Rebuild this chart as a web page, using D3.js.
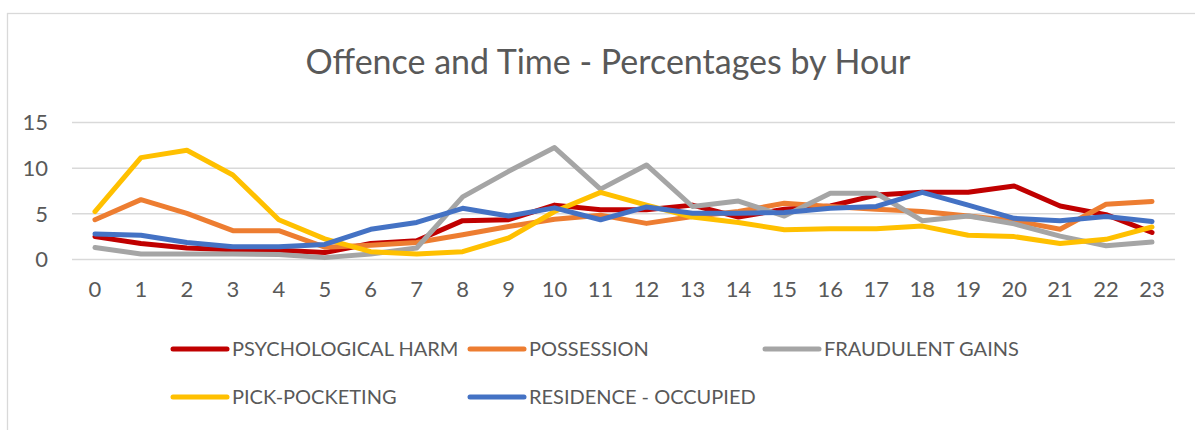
<!DOCTYPE html>
<html>
<head>
<meta charset="utf-8">
<script src="https://cdn.jsdelivr.net/npm/d3@7"></script>
<style>
  html, body { margin: 0; padding: 0; background: #fff; }
  svg { display: block; }
  text { font-family: Lato, "Open Sans", sans-serif; fill: #595959; }
</style>
</head>
<body>
<svg id="chart" width="1195" height="430"></svg>
<script>
const hours = ["0","1","2","3","4","5","6","7","8","9","10","11","12","13","14","15","16","17","18","19","20","21","22","23"];
const seriesNames = ["PSYCHOLOGICAL HARM", "POSSESSION", "FRAUDULENT GAINS", "PICK-POCKETING", "RESIDENCE - OCCUPIED"];
const psychologicalHarm = [2.45, 1.7, 1.2, 1.0, 0.95, 0.7, 1.7, 2.0, 4.2, 4.3, 5.9, 5.4, 5.4, 5.9, 4.6, 5.45, 5.8, 7.0, 7.3, 7.3, 8.0, 5.8, 4.85, 2.9];
const possession = [4.3, 6.5, 5.0, 3.1, 3.1, 1.3, 1.5, 1.8, 2.65, 3.55, 4.35, 4.8, 3.9, 4.65, 5.2, 6.1, 5.75, 5.45, 5.2, 4.7, 4.2, 3.25, 6.0, 6.3];
const fraudulentGains = [1.25, 0.55, 0.55, 0.55, 0.5, 0.15, 0.55, 1.2, 6.8, 9.6, 12.2, 7.65, 10.3, 5.75, 6.35, 4.7, 7.2, 7.2, 4.2, 4.7, 3.85, 2.5, 1.45, 1.85];
const pickPocketing = [5.2, 11.1, 11.9, 9.2, 4.3, 2.2, 0.8, 0.55, 0.8, 2.3, 5.2, 7.3, 5.9, 4.6, 4.0, 3.2, 3.3, 3.3, 3.6, 2.6, 2.45, 1.7, 2.15, 3.5];
const residenceOccupied = [2.75, 2.6, 1.8, 1.35, 1.35, 1.6, 3.25, 4.0, 5.55, 4.7, 5.6, 4.3, 5.7, 5.0, 5.0, 5.1, 5.55, 5.75, 7.3, 5.9, 4.45, 4.2, 4.65, 4.1];
const yTicks = [0, 5, 10, 15];
const colors = ["#C00000", "#ED7D31", "#A5A5A5", "#FFC000", "#4472C4"];
const title = "Offence and Time - Percentages by Hour";

const seriesValues = [psychologicalHarm, possession, fraudulentGains, pickPocketing, residenceOccupied];
const series = seriesNames.map((name, i) => ({ name, color: colors[i], values: seriesValues[i] }));

const svg = d3.select("#chart");

// chart frame
svg.append("rect")
  .attr("x", 7.5).attr("y", 13.5)
  .attr("width", 1300).attr("height", 500)
  .attr("fill", "#fff").attr("stroke", "#d9d9d9").attr("stroke-width", 1.3);

const plot = { left: 72, right: 1175, top: 122, bottom: 259 };

const x = d3.scaleBand().domain(hours).range([plot.left, plot.right]);
const y = d3.scaleLinear().domain([0, 15]).range([plot.bottom, plot.top]);

// title
svg.append("text")
  .attr("x", 608).attr("y", 74)
  .attr("text-anchor", "middle")
  .style("font-size", "34px")
  .text(title);

// gridlines
const yAxis = d3.axisLeft(y).tickValues(yTicks).tickSize(-(plot.right - plot.left)).tickPadding(24);
const gy = svg.append("g").attr("transform", `translate(${plot.left},0)`).call(yAxis);
gy.select(".domain").remove();
gy.selectAll(".tick line").attr("stroke", "#d9d9d9").attr("stroke-width", 1.5);
gy.selectAll(".tick text").style("font-size", "22px").attr("fill", "#595959").attr("dy", "0.36em");

// x axis labels
const xAxis = d3.axisBottom(x).tickSize(0).tickPadding(22);
const gx = svg.append("g").attr("transform", `translate(0,${plot.bottom})`).call(xAxis);
gx.select(".domain").remove();
gx.selectAll(".tick text").style("font-size", "22px").attr("fill", "#595959");

// lines
const line = d3.line()
  .x((d, i) => x(hours[i]) + x.bandwidth() / 2)
  .y(d => y(d));

svg.append("g").selectAll("path")
  .data(series)
  .join("path")
  .attr("d", d => line(d.values))
  .attr("fill", "none")
  .attr("stroke", d => d.color)
  .attr("stroke-width", 5)
  .attr("stroke-linejoin", "round")
  .attr("stroke-linecap", "round");

// legend
const legendCols = [173, 470, 765];
const legendRows = [349, 397];
const lg = svg.append("g").selectAll("g")
  .data(series)
  .join("g")
  .attr("transform", (d, i) => `translate(${legendCols[i % 3]},${legendRows[Math.floor(i / 3)]})`);
lg.append("line")
  .attr("x1", 0).attr("x2", 54).attr("y1", 0).attr("y2", 0)
  .attr("stroke", d => d.color).attr("stroke-width", 5).attr("stroke-linecap", "round");
lg.append("text")
  .attr("x", 59).attr("y", 0).attr("dy", "0.36em")
  .style("font-size", "20px")
  .text(d => d.name);
</script>
</body>
</html>
